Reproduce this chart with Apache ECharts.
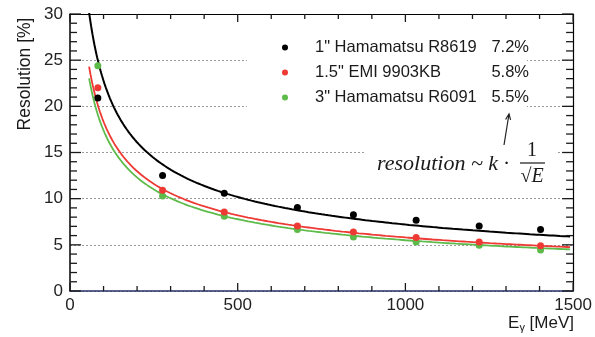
<!DOCTYPE html>
<html>
<head>
<meta charset="utf-8">
<script src="https://cdn.jsdelivr.net/npm/echarts@6/dist/echarts.min.js"></script>
<style>
html,body{margin:0;padding:0;background:#fff;}
#c{width:595px;height:337px;}
</style>
</head>
<body>
<div id="c"></div>
<script>
// ---- data ----
const energies = [83, 276, 460, 678, 845, 1032, 1220, 1403];           // E_gamma [MeV]
const resR8619 = [20.9, 12.5, 10.6, 9.05, 8.25, 7.65, 7.05, 6.65];      // 1" Hamamatsu R8619
const resEMI   = [22.0, 10.9, 8.55, 7.05, 6.4, 5.8, 5.3, 4.9];          // 1.5" EMI 9903KB
const resR6091 = [24.4, 10.3, 8.1, 6.65, 5.85, 5.3, 4.95, 4.45];        // 3" Hamamatsu R6091
const seriesNames = ['1" Hamamatsu R8619', '1.5" EMI 9903KB', '3" Hamamatsu R6091'];
const fitK = [7.2, 5.8, 5.5];                  // fit constant k [% * sqrt(GeV)]
const fitLabels = ['7.2%', '5.8%', '5.5%'];
const fitRange = [57, 1500];                   // MeV
const xTicks = [0, 500, 1000, 1500];
const yTicks = [0, 5, 10, 15, 20, 25, 30];
const xMinorStep = 100;
const yMinorStep = 1;
const colors = ['#000000', '#ee3a35', '#5dbb4a'];

// fitted curve resolution = k / sqrt(E[GeV])
function fitCurve(k) {
  const pts = [];
  for (let e = fitRange[0]; e <= fitRange[1]; e += (e < 300 ? 2 : 10)) {
    pts.push([e, k / Math.sqrt(e / 1000)]);
  }
  return pts;
}
const pts = arr => energies.map((e, i) => [e, arr[i]]);
const allRes = [resR8619, resEMI, resR6091];
const xMin = xTicks[0], xMax = xTicks[xTicks.length - 1];
const yMin = yTicks[0], yMax = yTicks[yTicks.length - 1];

// tick positions on the frame (flag 1 = major)
const xTickData = [];
for (let v = xMin; v <= xMax; v += xMinorStep) xTickData.push([v, yMin, xTicks.indexOf(v) >= 0 ? 1 : 0]);
const yTickData = [];
for (let v = yMin; v <= yMax; v += yMinorStep) yTickData.push([xMin, v, yTicks.indexOf(v) >= 0 ? 1 : 0]);

const chart = echarts.init(document.getElementById('c'), null, {renderer: 'canvas'});
const font = 'Liberation Sans, Arial, sans-serif';
const tickColor = '#222';

const series = [];
allRes.forEach((arr, i) => {
  series.push({
    name: seriesNames[i], type: 'line', data: fitCurve(fitK[i]),
    showSymbol: false, symbol: 'none', smooth: false, clip: true,
    lineStyle: {color: colors[i], width: i === 0 ? 2 : 1.8}, itemStyle: {color: colors[i]}, z: 2,
    legendHoverLink: false, silent: true
  });
});
allRes.forEach((arr, i) => {
  series.push({
    name: seriesNames[i], type: 'scatter', data: pts(arr),
    symbol: 'circle', symbolSize: 7,
    itemStyle: {color: colors[i], opacity: 1}, z: 3 + (2 - i)
  });
});

// inward ticks on all four sides of the frame, positioned through the axes' scales
const tickStroke = '#1a1a1a', tickWidth = 1.3;
series.push({
  name: 'xticks', type: 'custom', coordinateSystem: 'cartesian2d', xAxisIndex: 0, yAxisIndex: 0,
  silent: true, clip: false, z: 10,
  data: xTickData,
  encode: {x: 0, y: 1},
  renderItem: function (params, api) {
    const v = api.value(0), major = api.value(2) === 1;
    const len = major ? 8 : 5;
    const b = api.coord([v, yMin]), t = api.coord([v, yMax]);
    return {type: 'group', children: [
      {type: 'line', shape: {x1: b[0], y1: b[1], x2: b[0], y2: b[1] - len}, style: {stroke: tickStroke, lineWidth: tickWidth}},
      {type: 'line', shape: {x1: t[0], y1: t[1], x2: t[0], y2: t[1] + len}, style: {stroke: tickStroke, lineWidth: tickWidth}}
    ]};
  }
});
series.push({
  name: 'yticks', type: 'custom', coordinateSystem: 'cartesian2d', xAxisIndex: 0, yAxisIndex: 0,
  silent: true, clip: false, z: 10,
  data: yTickData,
  encode: {x: 0, y: 1},
  renderItem: function (params, api) {
    const v = api.value(1), major = api.value(2) === 1;
    const len = major ? 11 : 7;
    const l = api.coord([xMin, v]), r = api.coord([xMax, v]);
    return {type: 'group', children: [
      {type: 'line', shape: {x1: l[0], y1: l[1], x2: l[0] + len, y2: l[1]}, style: {stroke: tickStroke, lineWidth: tickWidth}},
      {type: 'line', shape: {x1: r[0], y1: r[1], x2: r[0] - len, y2: r[1]}, style: {stroke: tickStroke, lineWidth: tickWidth}}
    ]};
  }
});

const option = {
  animation: false,
  backgroundColor: '#fff',
  grid: {left: 70, right: 21, top: 14, bottom: 46, containLabel: false},
  xAxis: [{
    type: 'value', min: xMin, max: xMax, interval: 500, position: 'bottom',
    axisLine: {show: true, onZero: false, lineStyle: {color: '#24306a', width: 1.5}},
    axisTick: {show: false}, minorTick: {show: false},
    axisLabel: {color: tickColor, fontSize: 17, fontFamily: font, margin: 6, formatter: v => String(v)},
    splitLine: {show: false}
  }, {
    type: 'value', min: xMin, max: xMax, interval: 500, position: 'top',
    axisLine: {show: true, onZero: false, lineStyle: {color: '#000', width: 1.2}},
    axisTick: {show: false}, axisLabel: {show: false}, splitLine: {show: false}
  }],
  yAxis: [{
    type: 'value', min: yMin, max: yMax, interval: 5, position: 'left',
    axisLine: {show: true, onZero: false, lineStyle: {color: '#000', width: 1.5}},
    axisTick: {show: false}, minorTick: {show: false},
    axisLabel: {color: tickColor, fontSize: 17, fontFamily: font, margin: 7, formatter: v => String(v)},
    splitLine: {show: true, lineStyle: {color: '#9a9a9a', width: 1, type: [2, 2]}}
  }, {
    type: 'value', min: yMin, max: yMax, interval: 5, position: 'right',
    axisLine: {show: true, onZero: false, lineStyle: {color: '#000', width: 1.2}},
    axisTick: {show: false}, axisLabel: {show: false}, splitLine: {show: false}
  }],
  legend: {
    show: true, orient: 'vertical', left: 277, top: 34,
    data: seriesNames.map((n, i) => ({name: n, icon: 'circle', itemStyle: {color: colors[i]}})),
    itemWidth: 6, itemHeight: 6, itemGap: 8,
    selectedMode: false,
    textStyle: {color: '#1a1a1a', fontFamily: font, fontSize: 16.5,
      rich: {
        n: {width: 164, padding: [0, 0, 0, 22], fontSize: 16.5, fontFamily: font, color: '#1a1a1a', lineHeight: 20},
        p: {width: 50, align: 'right', fontSize: 16.5, fontFamily: font, color: '#1a1a1a', lineHeight: 20}
      }},
    formatter: name => {
      const i = seriesNames.indexOf(name);
      return '{n|' + name + '}{p|' + fitLabels[i] + '}';
    }
  },
  graphic: [
    {type: 'rect', z: 1, shape: {x: 247, y: 26, width: 280, height: 88}, style: {fill: '#fff'}},
    {type: 'rect', z: 1, shape: {x: 366, y: 120, width: 190, height: 74}, style: {fill: '#fff'}},
    {type: 'line', z: 100, shape: {x1: 504, y1: 145, x2: 509, y2: 114},
      style: {stroke: '#222', lineWidth: 1.2}},
    {type: 'polyline', z: 100, shape: {points: [[505.6, 119.5], [509, 114], [510.6, 119.8]]},
      style: {stroke: '#222', lineWidth: 1.2, fill: null}},
    {type: 'text', z: 100, x: 377, y: 164,
      style: {text: 'resolution ~ k ·', font: 'italic 22px "Liberation Serif", "DejaVu Serif", serif',
        fill: '#1a1a1a', textAlign: 'left', textVerticalAlign: 'middle'}},
    {type: 'text', z: 100, x: 532, y: 151,
      style: {text: '1', font: '20px "Liberation Serif", serif', fill: '#1a1a1a',
        textAlign: 'center', textVerticalAlign: 'middle'}},
    {type: 'line', z: 100, shape: {x1: 520, y1: 163, x2: 545, y2: 163},
      style: {stroke: '#1a1a1a', lineWidth: 1.2}},
    {type: 'text', z: 100, x: 532, y: 177,
      style: {text: '√E', font: 'italic 20px "Liberation Serif", serif', fill: '#1a1a1a',
        textAlign: 'center', textVerticalAlign: 'middle'}},
    {type: 'text', z: 100, x: 25, y: 74, rotation: Math.PI / 2,
      style: {text: 'Resolution [%]', font: '17.5px "Liberation Sans", Arial, sans-serif', fill: '#1a1a1a',
        textAlign: 'center', textVerticalAlign: 'middle'}},
    {type: 'text', z: 100, x: 574, y: 323,
      style: {text: '{a|E}{s|γ}{a| [MeV]}', textAlign: 'right', textVerticalAlign: 'middle',
        rich: {
          a: {fontSize: 17, fontFamily: font, fill: '#1a1a1a', color: '#1a1a1a', lineHeight: 20},
          s: {fontSize: 11, fontFamily: font, fill: '#1a1a1a', color: '#1a1a1a', lineHeight: 20, padding: [9, 0, 0, 0]}
        }}}
  ],
  series: series
};
chart.setOption(option);
</script>
</body>
</html>
